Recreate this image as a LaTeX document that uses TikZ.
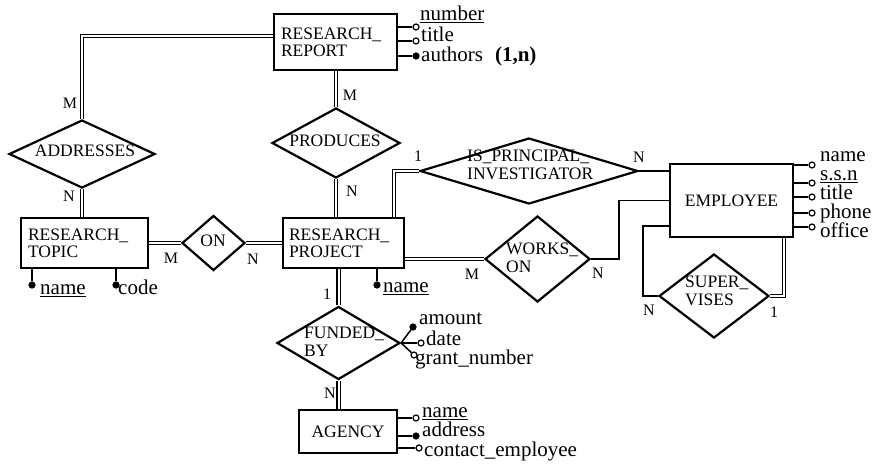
\documentclass[tikz,border=0pt]{standalone}
\usepackage{fontspec}
\setmainfont{Liberation Serif}
\usetikzlibrary{shapes.geometric}
\begin{document}
\begin{tikzpicture}[x=1pt,y=-1pt,
  ent/.style={draw, line width=1.8pt, rectangle, inner xsep=7pt, inner ysep=0pt, align=left,
    font=\fontsize{17.5}{17}\selectfont},
  rel/.style={draw, line width=2.2pt, diamond, inner sep=0pt},
  rtxt/.style={inner sep=0pt, align=left, font=\fontsize{17.5}{17.5}\selectfont},
  card/.style={inner sep=0pt, font=\fontsize{16}{16}\selectfont},
  attc/.style={circle, draw, line width=1.2pt, fill=white, inner sep=0pt, minimum size=6pt},
  attf/.style={attc, fill=black},
  atxt/.style={anchor=west, inner sep=0pt, text height=0.66em, text depth=0.18em,
    font=\fontsize{21}{21}\selectfont},
  dbl/.style={double, double distance=2pt, line width=1.3pt},
  sgl/.style={line width=1.8pt},
  aln/.style={line width=1.5pt}]
\useasboundingbox (0,0) rectangle (877,467);

% entities
\node[ent, minimum width=123pt, minimum height=56pt, text width=109pt] (rr) at (335.5,42) {RESEARCH\_\\REPORT};
\node[ent, minimum width=127pt, minimum height=50pt, text width=113pt] (rt) at (84.5,243) {RESEARCH\_\\TOPIC};
\node[ent, minimum width=121pt, minimum height=50pt, text width=109pt, inner xsep=6pt] (rp) at (343.5,243) {RESEARCH\_\\PROJECT};
\node[ent, minimum width=123pt, minimum height=73pt] (emp) at (731.5,200.5) {EMPLOYEE};
\node[ent, minimum width=98pt, minimum height=43pt] (ag) at (348,431.5) {AGENCY};

% relationships
\node[rel, minimum width=146pt, minimum height=68pt] (addr) at (82,154) {};
\node[rel, minimum width=128pt, minimum height=70pt] (prod) at (336,143) {};
\node[rel, minimum width=218pt, minimum height=66pt] (pi) at (529,171) {};
\node[rel, minimum width=63pt, minimum height=55pt] (on) at (213.5,243) {};
\node[rel, minimum width=105pt, minimum height=86pt] (wo) at (537.5,259) {};
\node[rel, minimum width=110pt, minimum height=84pt] (sup) at (714,296) {};
\node[rel, minimum width=123pt, minimum height=73pt] (fb) at (338.5,343) {};

\node[rtxt] (addr-t) at (85,151) {ADDRESSES};
\node[rtxt] (prod-t) at (335,141) {PRODUCES};
\node[rtxt, anchor=west] (pi-t) at (467,165) {IS\_PRINCIPAL\_\\INVESTIGATOR};
\node[rtxt] (on-t) at (213,241) {ON};
\node[rtxt, anchor=west] (wo-t) at (506,258) {WORKS\_\\ON};
\node[rtxt, anchor=west] (sup-t) at (685,291) {SUPER\_\\VISES};
\node[rtxt, anchor=west] (fb-t) at (304,342) {FUNDED\_\\BY};

% connectors
\draw[dbl] ([yshift=6pt]rr.west) -| (addr.north);
\draw[dbl] (prod.north |- rr.south) -- (prod.north);
\draw[dbl] (prod.south) -- (prod.south |- rp.north);
\draw[dbl] (addr.south) -- (addr.south |- rt.north);
\draw[dbl] (rt.east) -- (on.west);
\draw[dbl] (on.east) -- (rp.west);
\draw[dbl] ([xshift=-11pt]rp.north east) |- (pi.west);
\draw[sgl] (pi.east) -- (pi.east -| emp.west);
\draw[dbl] (rp.east |- wo.west) -- (wo.west);
\draw[sgl] (wo.east) -- ++(28,0) |- (emp.west);
\draw[sgl] (sup.west) -- ++(-15,0) |- ([yshift=12pt]emp.south west);
\draw[dbl] (sup.east) -| ([xshift=-10pt]emp.south east);
\draw[dbl] (fb.north |- rp.south) -- (fb.north);
\draw[dbl] (fb.south) -- (fb.south |- ag.north);

% cardinalities
\node[card] (c1) at (70,103) {M};
\node[card] (c2) at (69,196) {N};
\node[card] (c3) at (350,95) {M};
\node[card] (c4) at (352,191) {N};
\node[card] (c5) at (418,156) {1};
\node[card] (c6) at (639,157) {N};
\node[card] (c7) at (171,258) {M};
\node[card] (c8) at (253,259) {N};
\node[card] (c9) at (472,274) {M};
\node[card] (c10) at (598,273) {N};
\node[card] (c11) at (649,310) {N};
\node[card] (c12) at (774,312) {1};
\node[card] (c13) at (327,294) {1};
\node[card] (c14) at (330,393) {N};

% attributes of RESEARCH_REPORT
\node[attc] (rr1) at (416,27) {};
\node[attc] (rr2) at (416,41) {};
\node[attf] (rr3) at (416,56) {};
\draw[aln] (rr.east |- rr1) -- (rr1);
\draw[aln] (rr.east |- rr2) -- (rr2);
\draw[aln] (rr.east |- rr3) -- (rr3);
\node[atxt] (rr1t) at (420,18) {\underline{number}};
\node[atxt] (rr2t) at (421,39) {title};
\node[atxt] (rr3t) at (421,59) {authors\hspace{12pt}\textbf{(1,n)}};

% attributes of RESEARCH_TOPIC
\node[attf] (rt1) at (32,285) {};
\node[attf] (rt2) at (116,285) {};
\draw[aln] (rt1 |- rt.south) -- (rt1);
\draw[aln] (rt2 |- rt.south) -- (rt2);
\node[atxt] (rt1t) at (40,292) {\underline{name}};
\node[atxt] (rt2t) at (118,292) {code};

% attribute of RESEARCH_PROJECT
\node[attf] (rp1) at (377,285) {};
\draw[aln] (rp1 |- rp.south) -- (rp1);
\node[atxt] (rp1t) at (383,290) {\underline{name}};

% attributes of FUNDED_BY
\node[attf] (fb1) at (413,327) {};
\node[attc] (fb2) at (421,343) {};
\node[attc] (fb3) at (414,355) {};
\draw[aln] (fb.east) -- (fb1);
\draw[aln] (fb.east) -- (fb2);
\draw[aln] (fb.east) -- (fb3);
\node[atxt] (fb1t) at (419,322) {amount};
\node[atxt] (fb2t) at (426,343) {date};
\node[atxt] (fb3t) at (415,362) {grant\_number};

% attributes of AGENCY
\node[attc] (ag1) at (416,418) {};
\node[attf] (ag2) at (416,436) {};
\node[attc] (ag3) at (419,448) {};
\draw[aln] (ag.east |- ag1) -- (ag1);
\draw[aln] (ag.east |- ag2) -- (ag2);
\draw[aln] (ag.east |- ag3) -- (ag3);
\node[atxt] (ag1t) at (422,415) {\underline{name}};
\node[atxt] (ag2t) at (422,434) {address};
\node[atxt] (ag3t) at (424,454) {contact\_employee};

% attributes of EMPLOYEE
\node[attc] (e1) at (812,165) {};
\node[attc] (e2) at (812,183) {};
\node[attc] (e3) at (812,197) {};
\node[attc] (e4) at (812,213) {};
\node[attc] (e5) at (812,227) {};
\draw[aln] (emp.east |- e1) -- (e1);
\draw[aln] (emp.east |- e2) -- (e2);
\draw[aln] (emp.east |- e3) -- (e3);
\draw[aln] (emp.east |- e4) -- (e4);
\draw[aln] (emp.east |- e5) -- (e5);
\node[atxt] (e1t) at (820,159) {name};
\node[atxt] (e2t) at (820,178) {\underline{s.s.n}};
\node[atxt] (e3t) at (820,197) {title};
\node[atxt] (e4t) at (820,216) {phone};
\node[atxt] (e5t) at (820,235) {office};
\end{tikzpicture}
\end{document}
